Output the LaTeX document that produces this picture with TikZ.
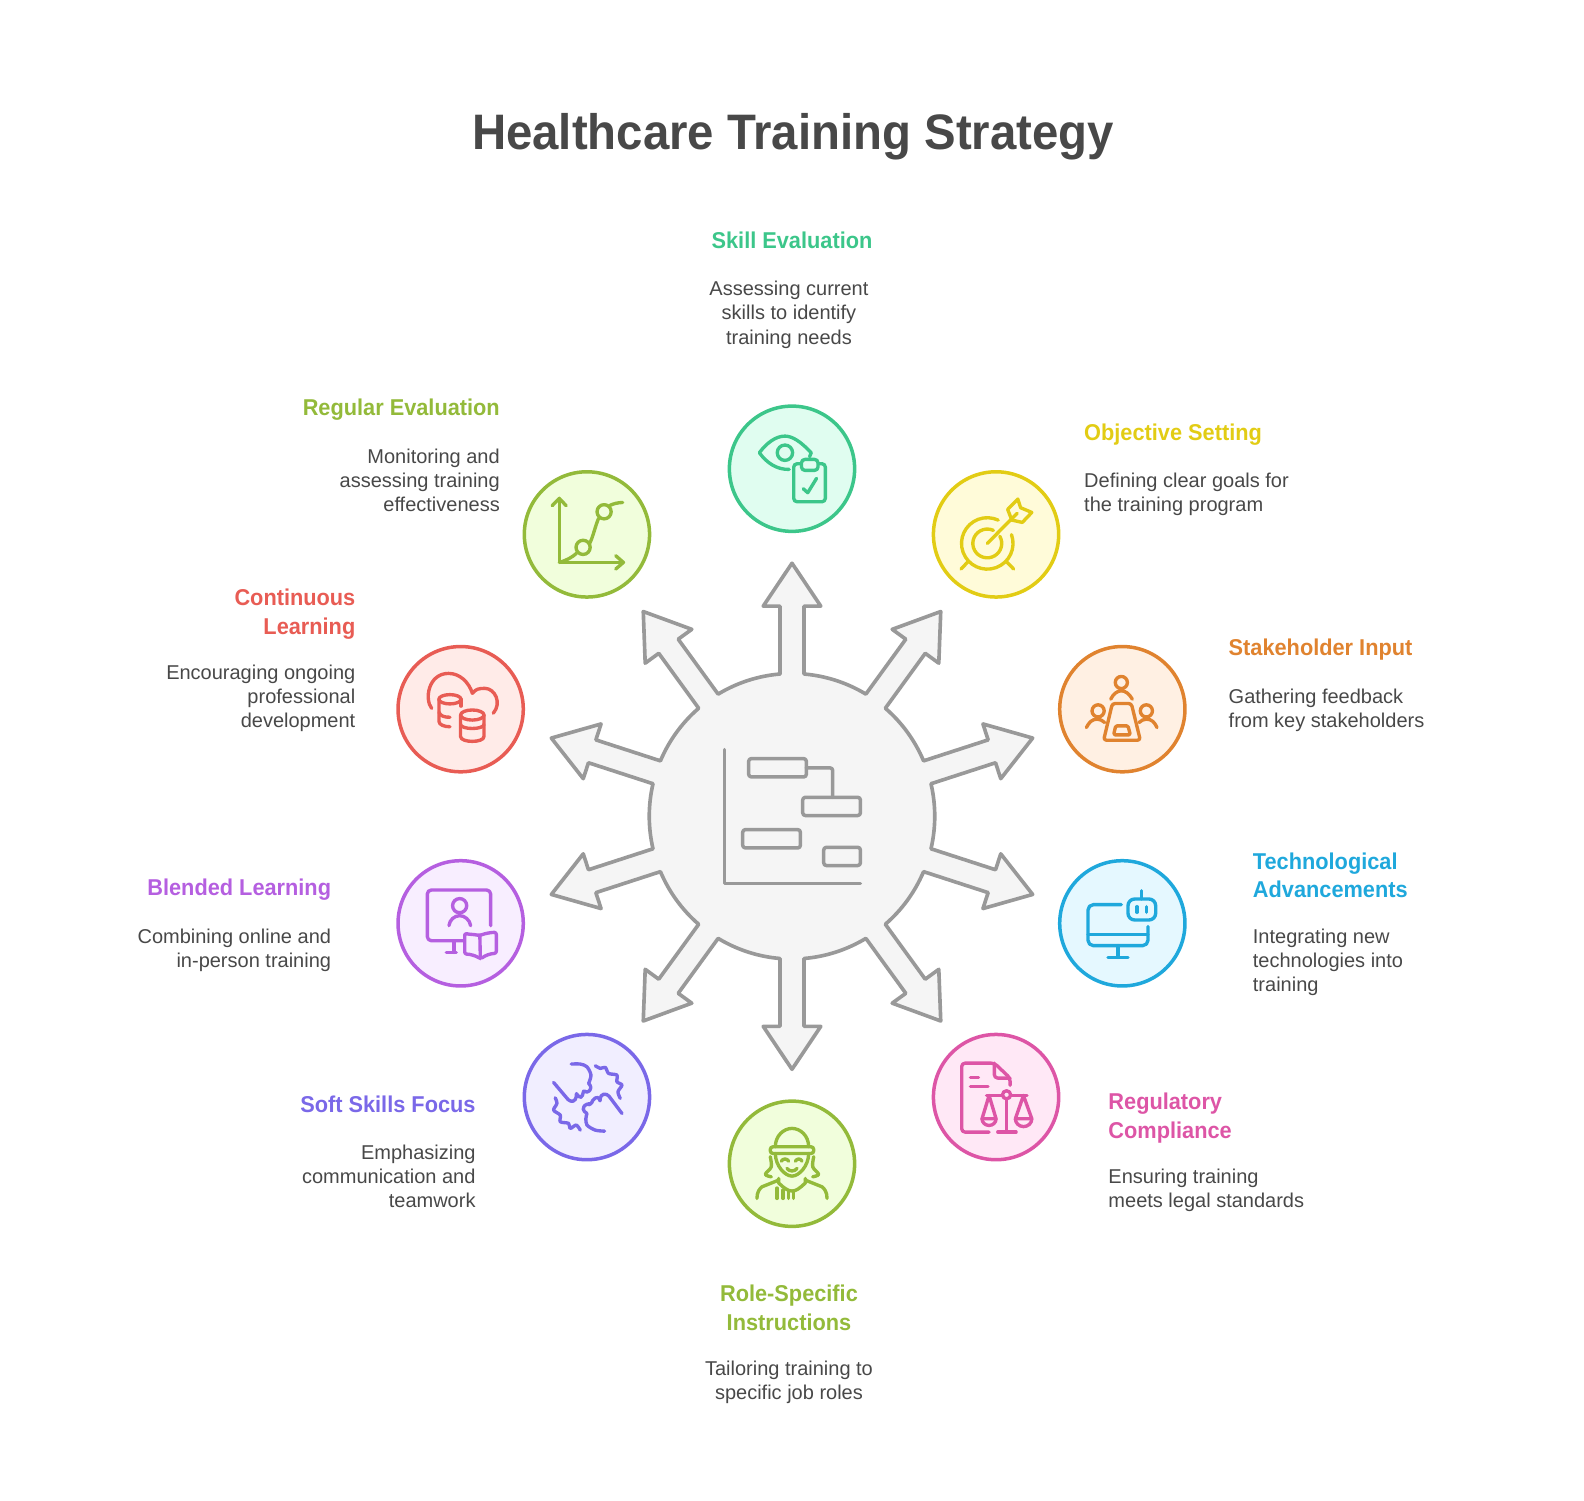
\documentclass[tikz,border=0pt]{standalone}
\usepackage{fontspec}
\setmainfont{Liberation Sans}[BoldFeatures={FakeStretch=0.95}]
\definecolor{inkc}{HTML}{484848}
\definecolor{hubc}{HTML}{999999}
\definecolor{hubf}{HTML}{F5F5F5}
\definecolor{skillc}{HTML}{3CC68A}
\definecolor{skillf}{HTML}{E0FDF0}
\definecolor{goalc}{HTML}{E2CC14}
\definecolor{goalf}{HTML}{FFFBD9}
\definecolor{inputc}{HTML}{E0832F}
\definecolor{inputf}{HTML}{FFF0E3}
\definecolor{techc}{HTML}{1FA8DC}
\definecolor{techf}{HTML}{E5F8FF}
\definecolor{lawc}{HTML}{DD55A6}
\definecolor{lawf}{HTML}{FFE8F6}
\definecolor{rolec}{HTML}{93BA3A}
\definecolor{rolef}{HTML}{F1FEDC}
\definecolor{softc}{HTML}{7A68E8}
\definecolor{softf}{HTML}{F1EEFF}
\definecolor{blendc}{HTML}{B55FE0}
\definecolor{blendf}{HTML}{F8EEFF}
\definecolor{learnc}{HTML}{E85C54}
\definecolor{learnf}{HTML}{FFEBE8}
\tikzset{
  disc/.style 2 args={circle,draw=#1,fill=#2,line width=2.6pt,minimum size=93pt,inner sep=0pt},
  icon/.style={color=#1,line width=2.5pt,line cap=round,line join=round},
  headtext/.style={text=#1,font=\fontsize{17}{21}\selectfont\bfseries,inner sep=0pt},
  bodytext/.style={text=inkc,font=\fontsize{14.85}{18}\selectfont,inner sep=0pt}
}
\begin{document}
\begin{tikzpicture}[x=0.75pt,y=0.75pt]
\useasboundingbox (0,0) rectangle (1568,-1485);
\node[text=inkc,font=\fontsize{37}{44}\selectfont\bfseries,inner sep=0pt] (title) at (785,-135) {Healthcare Training Strategy};
% hub with its ten arrows
\coordinate (hub) at (784,-808);
\begin{scope}[shift={(hub)}]
\draw[hubc,fill=hubf,line width=2.7pt,line join=round] ([rotate=90]140.8,11.9)
  \foreach \a [evaluate=\a as \b using \a-4.83, evaluate=\a as \c using \a-31.17] in {90,54,18,-18,-54,-90,-126,-162,-198,-234} {
    -- ([rotate=\a]208,11.9) -- ([rotate=\a]208,28.5) -- ([rotate=\a]250.5,0)
    -- ([rotate=\a]208,-28.5) -- ([rotate=\a]208,-11.9) -- ([rotate=\a]140.8,-11.9)
    arc[start angle=\b,end angle=\c,radius=141.3]
  } -- cycle;
\begin{scope}[icon=hubc,line width=2.6pt]
\draw (-66.7,66) -- (-66.7,-66.7) -- (67.7,-66.7);
\draw[rounded corners=2pt] (-42.9,38.9) rectangle (14.2,57.1);
\draw[rounded corners=2pt] (10.6,0.7) rectangle (67.7,18.8);
\draw[rounded corners=2pt] (-48.8,-31.4) rectangle (8.3,-13.2);
\draw[rounded corners=2pt] (31.4,-48.8) rectangle (67.7,-30.7);
\draw[rounded corners=2pt] (14.2,47.9) -- (40.3,47.9) -- (40.3,18.8);
\end{scope}
\end{scope}
% the discs
\node[disc={skillc}{skillf}] (skill) at (784,-464) {};
\node[disc={goalc}{goalf}] (goal) at (986,-529) {};
\node[disc={inputc}{inputf}] (input) at (1111,-702) {};
\node[disc={techc}{techf}] (tech) at (1111,-914) {};
\node[disc={lawc}{lawf}] (law) at (986,-1086) {};
\node[disc={rolec}{rolef}] (role) at (784,-1152) {};
\node[disc={softc}{softf}] (soft) at (581,-1086) {};
\node[disc={blendc}{blendf}] (blend) at (456,-914) {};
\node[disc={learnc}{learnf}] (learn) at (456,-702) {};
\node[disc={rolec}{rolef}] (review) at (581,-529) {};
% the labels
\node[headtext=skillc,anchor=north] (skillhead) at (784,-229) {Skill Evaluation};
\node[bodytext,anchor=north,align=center] (skillbody) at (781,-278) {Assessing current\\skills to identify\\training needs};
\node[headtext=goalc,anchor=north west] (goalhead) at (1073,-419) {Objective Setting};
\node[bodytext,anchor=north west,align=left] (goalbody) at (1073,-468) {Defining clear goals for\\the training program};
\node[headtext=inputc,anchor=north west] (inputhead) at (1216,-632) {Stakeholder Input};
\node[bodytext,anchor=north west,align=left] (inputbody) at (1216,-682) {Gathering feedback\\from key stakeholders};
\node[headtext=techc,anchor=north west,align=left] (techhead) at (1240,-844) {Technological\\Advancements};
\node[bodytext,anchor=north west,align=left] (techbody) at (1240,-919) {Integrating new\\technologies into\\training};
\node[headtext=lawc,anchor=north west,align=left] (lawhead) at (1097,-1082) {Regulatory\\Compliance};
\node[bodytext,anchor=north west,align=left] (lawbody) at (1097,-1157) {Ensuring training\\meets legal standards};
\node[headtext=rolec,anchor=north,align=center] (rolehead) at (781,-1272) {Role-Specific\\Instructions};
\node[bodytext,anchor=north,align=center] (rolebody) at (781,-1347) {Tailoring training to\\specific job roles};
\node[headtext=softc,anchor=north east] (softhead) at (471,-1085) {Soft Skills Focus};
\node[bodytext,anchor=north east,align=right] (softbody) at (471,-1133) {Emphasizing\\communication and\\teamwork};
\node[headtext=blendc,anchor=north east] (blendhead) at (328,-870) {Blended Learning};
\node[bodytext,anchor=north east,align=right] (blendbody) at (328,-919) {Combining online and\\in-person training};
\node[headtext=learnc,anchor=north east,align=right] (learnhead) at (352,-583) {Continuous\\Learning};
\node[bodytext,anchor=north east,align=right] (learnbody) at (352,-658) {Encouraging ongoing\\professional\\development};
\node[headtext=rolec,anchor=north east] (reviewhead) at (495,-395) {Regular Evaluation};
\node[bodytext,anchor=north east,align=right] (reviewbody) at (495,-444) {Monitoring and\\assessing training\\effectiveness};
% eye and clipboard
\begin{scope}[shift={(skill)},yscale=0.95,icon=skillc]
\draw (19,16.7) .. controls (8,29) and (0,34) .. (-7,34) .. controls (-16,34) and (-25,27) .. (-32.3,16.7) .. controls (-25,6) and (-15,-1) .. (-2.8,-0.7);
\draw (19,16.7) -- (17.4,12.5);
\draw (-7,16.7) ellipse (7.6 and 8);
\draw[rounded corners=2.5pt] (1.7,-34.4) rectangle (33,5.2);
\draw[rounded corners=2.5pt,fill=skillf] (9.4,-1.7) rectangle (25.7,9.7);
\draw (11.1,-20.8) -- (15.6,-25) -- (24.3,-10);
\end{scope}
% target and arrow
\begin{scope}[shift={(goal)},yscale=0.95,icon=goalc]
\draw (-8.7,-9.4) ++(20:25.5 and 26.8) arc[start angle=20,end angle=-295,x radius=25.5,y radius=26.8];
\draw (-8.7,-9.4) ++(30:14.3 and 15) arc[start angle=30,end angle=-295,x radius=14.3,y radius=15];
\draw (-8.7,-9.4) -- (20.8,21.9);
\draw (21.5,36.8) -- (24.3,27.8) -- (35.4,22.9) -- (26,12.5) -- (15.6,14.9) -- (11.5,26) -- cycle;
\draw (-27.8,-28.5) -- (-34.7,-36.1);
\draw (10.4,-28.5) -- (17.4,-36.1);
\end{scope}
% meeting table
\begin{scope}[shift={(input)},icon=inputc]
\draw (-1,26.4) circle (6);
\draw (-11.5,9.9) .. controls (-9,15) and (-5,18.2) .. (-1,18.2) .. controls (3,18.2) and (7,15) .. (9.9,9.9);
\draw (-24,-1.7) circle (6);
\draw (-35.6,-18.2) .. controls (-33,-13) and (-30,-9.9) .. (-25,-9.9) .. controls (-22,-9.9) and (-20,-11) .. (-17.5,-13.2);
\draw (23.8,-1.7) circle (6);
\draw (34.3,-18.2) .. controls (32,-13) and (29,-9.9) .. (24,-9.9) .. controls (21,-9.9) and (19,-11) .. (16.5,-13.2);
\draw[rounded corners=2pt] (-9.9,5.6) -- (8.9,5.6) -- (17.8,-30.7) -- (-18.5,-30.7) -- cycle;
\draw[rounded corners=1pt] (-6.6,-16.5) -- (5.6,-16.5) -- (7.9,-25.4) -- (-8.6,-25.4) -- cycle;
\end{scope}
% screen and robot
\begin{scope}[shift={(tech)},icon=techc]
\draw[rounded corners=4pt] (-1,18.5) -- (-34,18.5) -- (-34,-22.1) -- (25.4,-22.1) -- (25.4,-3.3);
\draw (-34,-11.2) -- (25.4,-11.2);
\draw (-4.3,-22.1) -- (-4.3,-33.7);
\draw (-14.2,-33.7) -- (5.6,-33.7);
\draw[rounded corners=5pt] (5.6,3.3) rectangle (33,24.1);
\draw (19.1,24.1) -- (19.1,32.3);
\draw (14.5,16.5) -- (14.5,10.9);
\draw (23.8,16.5) -- (23.8,10.9);
\end{scope}
% document and balance
\begin{scope}[shift={(law)},yscale=0.95,icon=lawc]
\draw[rounded corners=2.5pt] (-6.9,-36.5) -- (-34,-36.5) -- (-34,35.4) -- (-1.7,35.4) -- (13.9,19.8) -- (13.9,12.2);
\draw[rounded corners=2.5pt] (-1.7,35.4) -- (-1.7,19.8) -- (13.9,19.8);
\draw (-25.4,20.5) -- (-17.4,20.5);
\draw (-25.4,11.1) -- (-8,11.1);
\draw (-9.4,1.7) -- (30.6,1.7);
\draw[fill=lawf] (10.4,2.4) ellipse (4 and 4.2);
\draw (10.4,-1.8) -- (10.4,-36.5);
\draw (1.7,-36.5) -- (19.8,-36.5);
\draw (-6.9,1.7) -- (-13.9,-22.6) -- (0,-22.6) -- cycle;
\draw (-13.9,-22.6) arc[start angle=180,end angle=360,radius=6.95];
\draw (27.1,1.7) -- (19.1,-22.6) -- (35.4,-22.6) -- cycle;
\draw (19.1,-22.6) arc[start angle=180,end angle=360,radius=8.15];
\end{scope}
% person in a cap
\begin{scope}[shift={(role)},icon=rolec]
\draw (-16.5,16.8) .. controls (-16.5,28) and (-8,35) .. (0,35) .. controls (8,35) and (16.5,28) .. (16.5,16.8);
\draw[rounded corners=2pt] (-21.5,10.2) rectangle (21.5,16.8);
\draw (-16.5,10.2) .. controls (-16.5,-2) and (-7,-12.2) .. (0,-12.2) .. controls (7,-12.2) and (16.5,-2) .. (16.5,10.2);
\draw (-10.6,2.6) .. controls (-9,5.4) and (-5,5.4) .. (-3.3,2.6);
\draw (3.3,2.6) .. controls (5,5.4) and (8.5,5.4) .. (9.9,2.6);
\draw (-5,-4.6) .. controls (-3,-8) and (3,-8) .. (5,-4.6);
\draw plot[smooth] coordinates {(-21.5,7) (-20.5,-3) (-26.4,-10.5) (-20.5,-12.9)};
\draw plot[smooth] coordinates {(21.5,7) (20.5,-3) (26.4,-10.5) (20.5,-12.9)};
\draw (-13.2,-14.5) -- (-13.2,-19) .. controls (-8,-24) and (-4,-27) .. (0,-27) .. controls (4,-27) and (8,-24) .. (13.2,-19) -- (13.2,-14.5);
\draw (-34.7,-34.3) .. controls (-34.7,-28) and (-32,-24.5) .. (-29.7,-22.8) -- (-13.2,-16.2);
\draw (34.7,-34.3) .. controls (34.7,-28) and (32,-24.5) .. (29.7,-22.8) -- (13.2,-16.2);
\draw (-14.9,-24) -- (-14.9,-34.3);
\draw (-9,-26) -- (-9,-34.3);
\draw (-3.5,-27) -- (-3.5,-34.3);
\draw (1.5,-27) -- (1.5,-34.3);
\end{scope}
% two hands
\begin{scope}[shift={(soft)},icon=softc]
\draw plot[smooth] coordinates {(8.3,31) (13.2,28.4) (18.2,29.4) (21.5,23.4) (29.7,21.8) (29.7,15.2) (34.7,11.9) (30.7,5.3) (33,-1.3)};
\draw plot[smooth] coordinates {(-31.4,-0.7) (-29.7,-6.3) (-33,-12.9) (-26.4,-17.8) (-26.4,-24.4) (-18.2,-26) (-16.5,-31) (-10.6,-27.7) (-6.6,-32.7)};
\draw plot[smooth] coordinates {(-15.5,32.7) (-6.6,32.7) (0,30) (4,21.8) (1.7,13.5)};
\draw[rounded corners=2.5pt] (1.7,13.5) -- (5.2,9.5) -- (0,3.5) -- (-4,7.5) -- (-3.5,1) -- (-8.3,-1) -- (-10.6,5.3) -- (-10.6,-3) -- (-16.5,-5) -- (-33,14.5);
\draw plot[smooth] coordinates {(17.5,-33.7) (8.3,-32.7) (0,-27.7) (-1,-21) (0,-16.2)};
\draw[rounded corners=2.5pt] (0,-16.2) -- (-5,-12.2) -- (0,-5.6) -- (4,-8.5) -- (5,-3) -- (11.5,1) -- (13.2,-5.6) -- (13.2,2) -- (19.8,3.6) -- (34.7,-16.2);
\end{scope}
% screen, teacher and book
\begin{scope}[shift={(blend)},icon=blendc]
\draw[rounded corners=3pt] (29.7,-2.3) -- (29.7,33) -- (-33,33) -- (-33,-17.2) -- (2.3,-17.2);
\draw (-6.6,-18.8) -- (-6.6,-28.7);
\draw (-14.2,-28.7) -- (-4.3,-28.7);
\draw (-1,17.5) circle (7);
\draw (-11.6,-2.3) .. controls (-11,3.5) and (-6,7.6) .. (-1,7.6) .. controls (4,7.6) and (9,3.5) .. (9.9,-2.3);
\draw[rounded corners=1.5pt] (4,-9.9) .. controls (9,-11) and (14,-11) .. (18.8,-12.2) .. controls (24,-10) and (30,-9) .. (35.3,-8.9) -- (35.3,-29.7) .. controls (29,-30) and (24,-32) .. (19.8,-35.3) .. controls (15,-32) and (9,-30.5) .. (4,-30.4) -- cycle;
\draw (19,-12.2) -- (19.5,-35);
\end{scope}
% cloud and two stacks
\begin{scope}[shift={(learn)},icon=learnc]
\draw (-28.7,0.8) .. controls (-36,10) and (-32,35.4) .. (-12,35.4) .. controls (-1,35.4) and (8,27) .. (11.6,15.7) .. controls (15,20) and (18,20.6) .. (24,20.6) .. controls (34,20.6) and (41,6) .. (32.3,-4);
\draw[fill=learnf] (-10.6,9.8) ellipse (11 and 4.6);
\draw (-21.5,9.8) -- (-21.5,-12) .. controls (-21.5,-15.5) and (-16,-17.4) .. (-10.6,-17.4);
\draw (-21.5,-3) .. controls (-20,-7) and (-16,-8) .. (-10.6,-8);
\draw (0.4,9.8) -- (0.4,3);
\draw[fill=learnf] (11.5,-5.8) ellipse (11.6 and 5);
\draw (-0.1,-5.8) -- (-0.1,-27) .. controls (-0.1,-33.5) and (23.1,-33.5) .. (23.1,-27) -- (23.1,-5.8);
\draw (-0.1,-15) .. controls (-0.1,-20.5) and (23.1,-20.5) .. (23.1,-15);
\end{scope}
% chart with rising line
\begin{scope}[shift={(review)},yscale=0.95,icon=rolec]
\draw (-27.4,37.5) -- (-27.4,-29.2) -- (36.1,-29.2);
\draw (-34.4,29.9) -- (-27.4,37.5) -- (-20.5,29.9);
\draw (28.5,-22.2) -- (36.1,-29.2) -- (28.5,-36.1);
\draw (-3.8,-13.5) ellipse (7 and 7.4);
\draw (17,23.6) ellipse (7 and 7.4);
\draw (-27.4,-29.2) .. controls (-20,-27) and (-15,-24) .. (-10.4,-19.8);
\draw (2.4,-10) .. controls (6,-3) and (8,8) .. (11.5,16.7);
\draw (22.2,29.9) .. controls (26,32) and (30,33) .. (35.4,33.3);
\end{scope}
\end{tikzpicture}
\end{document}
